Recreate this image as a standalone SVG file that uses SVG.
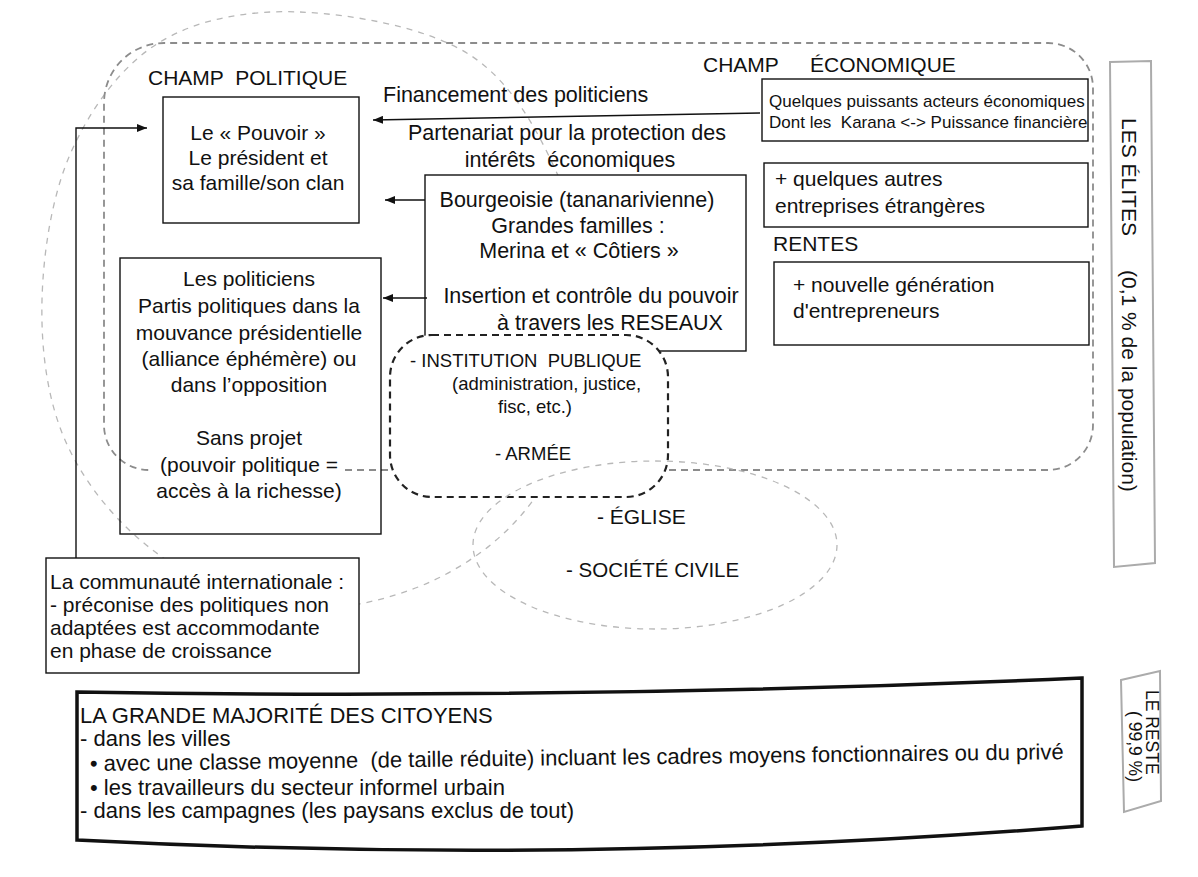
<svg xmlns="http://www.w3.org/2000/svg" width="1198" height="877" viewBox="0 0 1198 877">
<defs>
<style>
.t{font-family:"Liberation Sans",Arial,Helvetica,sans-serif;fill:#111;white-space:pre}
.s17{font-size:17px}.s175{font-size:17.5px}.s18{font-size:18.5px}.s20{font-size:20.5px}.s21{font-size:21px}.s215{font-size:21.5px}.s22{font-size:22px}
.m{text-anchor:middle}
.box{fill:#fff;stroke:#111;stroke-width:1.4}
.boxn{fill:none;stroke:#111;stroke-width:1.4}
.light{fill:none;stroke:#b8b8b8;stroke-width:1.3;stroke-dasharray:6 6}
.mid{fill:none;stroke:#8c8c8c;stroke-width:1.8;stroke-dasharray:7 5}
.inst{fill:#fff;stroke:#222;stroke-width:2.2;stroke-dasharray:7 5}
.gray{fill:#fff;stroke:#ababab;stroke-width:2}
.conn{fill:none;stroke:#111;stroke-width:1.4}
.thick{fill:#fff;stroke:#111;stroke-width:3.5}
</style>
<marker id="ah" markerUnits="userSpaceOnUse" markerWidth="11" markerHeight="8" refX="10" refY="4" orient="auto">
<path d="M0,0 L10,4 L0,8 z" fill="#111"/>
</marker>
</defs>
<rect width="1198" height="877" fill="#fff"/>

<g id="champ-politique-zone">
<path class="light" d="M300,12 C351.7,14.2 426.7,27 470,55 C513.3,83 539.7,134.2 560,180 C580.3,225.8 595.3,278.3 592,330 C588.7,381.7 567,448 540,490 C513,532 473.3,562.3 430,582 C386.7,601.7 326.7,613.7 280,608 C233.3,602.3 185.8,576 150,548 C114.2,520 83,481.3 65,440 C47,398.7 40.8,348.3 42,300 C43.2,251.7 52.3,193 72,150 C91.7,107 122,65 160,42 C198,19 248.3,9.8 300,12 Z"/>
<text class="t s21" x="148" y="85">CHAMP  POLITIQUE</text>
</g>

<g id="champ-economique-zone">
<path class="mid" d="M345,470 H1048 A45,45 0 0 0 1093,425 V88 A45,45 0 0 0 1048,43 H164 A60,60 0 0 0 104,103 V425 A45,45 0 0 0 149,470"/>
<text class="t s21" x="703" y="72">CHAMP<tspan x="810">ÉCONOMIQUE</tspan></text>
</g>

<g id="pouvoir">
<rect class="box" x="163" y="97" width="196" height="126"/>
<text class="t s21 m" x="258" y="140">Le « Pouvoir »</text>
<text class="t s21 m" x="258" y="165">Le président et</text>
<text class="t s21 m" x="258" y="190">sa famille/son clan</text>
</g>

<g id="bourgeoisie">
<rect class="box" x="425" y="175" width="321" height="176"/>
<text class="t s215 m" x="577" y="207">Bourgeoisie (tananarivienne)</text>
<text class="t s215 m" x="578" y="233">Grandes familles :</text>
<text class="t s215 m" x="579" y="258">Merina et « Côtiers »</text>
<text class="t s215 m" x="591" y="303">Insertion et contrôle du pouvoir</text>
<text class="t s215 m" x="610" y="330">à travers les RESEAUX</text>
</g>

<g id="politiciens">
<rect class="boxn" x="120" y="258" width="261" height="276"/>
<text class="t s21 m" x="249" y="286">Les politiciens</text>
<text class="t s21 m" x="249" y="313">Partis politiques dans la</text>
<text class="t s21 m" x="249" y="340">mouvance présidentielle</text>
<text class="t s21 m" x="249" y="366">(alliance éphémère) ou</text>
<text class="t s21 m" x="249" y="392">dans l’opposition</text>
<text class="t s21 m" x="249" y="445">Sans projet</text>
<text class="t s21 m" x="249" y="472">(pouvoir politique =</text>
<text class="t s21 m" x="249" y="498">accès à la richesse)</text>
</g>

<g id="institution">
<rect class="inst" x="390" y="335" width="278" height="162" rx="42" ry="42"/>
<text class="t s18" x="410" y="367">- INSTITUTION  PUBLIQUE</text>
<text class="t s18" x="452" y="390">(administration, justice,</text>
<text class="t s18" x="498" y="413">fisc, etc.)</text>
<text class="t s18" x="495" y="460">- ARMÉE</text>
</g>

<g id="eglise-societe">
<ellipse class="light" cx="655" cy="545" rx="182" ry="84"/>
<text class="t s21" x="597" y="524">- ÉGLISE</text>
<text class="t s20" x="566" y="577">- SOCIÉTÉ CIVILE</text>
</g>

<g id="communaute">
<rect class="box" x="46" y="558" width="313" height="115"/>
<text class="t s21" x="50" y="589">La communauté internationale :</text>
<text class="t s21" x="50" y="612">- préconise des politiques non</text>
<text class="t s21" x="50" y="635">adaptées est accommodante</text>
<text class="t s21" x="50" y="658">en phase de croissance</text>
</g>

<g id="acteurs-economiques">
<rect class="box" x="762" y="79" width="326" height="62"/>
<text class="t s17" x="769" y="107">Quelques puissants acteurs économiques</text>
<text class="t s17" x="769" y="128">Dont les  Karana &lt;-&gt; Puissance financière</text>
</g>

<g id="entreprises-etrangeres">
<rect class="box" x="764" y="163" width="324" height="64"/>
<text class="t s21" x="775" y="186">+ quelques autres</text>
<text class="t s21" x="775" y="213">entreprises étrangères</text>
</g>

<g id="rentes">
<text class="t s21" x="773" y="251">RENTES</text>
</g>

<g id="nouvelle-generation">
<rect class="box" x="774" y="262" width="315" height="83"/>
<text class="t s21" x="793" y="292">+ nouvelle génération</text>
<text class="t s21" x="793" y="318">d'entrepreneurs</text>
</g>

<g id="les-elites">
<polygon class="gray" points="1110,62 1151,61 1155,563 1114,567"/>
<text class="t s21" transform="translate(1122,118) rotate(90)">LES ÉLITES<tspan x="152">(0,1 % de la population)</tspan></text>
</g>

<g id="citoyens">
<path class="thick" d="M77,692 Q580,700 1082,678 L1082,826 Q580,866 77,840 Z"/>
<text class="t s22" x="80" y="723">LA GRANDE MAJORITÉ DES CITOYENS</text>
<text class="t s22" x="80" y="746">- dans les villes</text>
<text class="t s22" x="90" y="771" transform="rotate(-0.7 90 771)">• avec une classe moyenne  (de taille réduite) incluant les cadres moyens fonctionnaires ou du privé</text>
<text class="t s22" x="90" y="795">• les travailleurs du secteur informel urbain</text>
<text class="t s22" x="80" y="818">- dans les campagnes (les paysans exclus de tout)</text>
</g>

<g id="le-reste">
<polygon class="gray" points="1121,680 1160,671 1161,801 1124,812"/>
<text class="t s175" transform="translate(1146,690) rotate(90)">LE RESTE</text>
<text class="t s175" transform="translate(1129,711) rotate(90)">( 99,9 %)</text>
</g>

<g id="connectors">
<line class="conn" x1="760" y1="113" x2="373" y2="120" marker-end="url(#ah)"/>
<text class="t s215" x="383" y="102">Financement des politiciens</text>
<text class="t s215 m" x="567" y="140">Partenariat pour la protection des</text>
<text class="t s215 m" x="570" y="167">intérêts  économiques</text>
<line class="conn" x1="425" y1="200" x2="385" y2="200" marker-end="url(#ah)"/>
<line class="conn" x1="427" y1="298" x2="383" y2="298" marker-end="url(#ah)"/>
<polyline class="conn" points="76,558 76,128 147,128" marker-end="url(#ah)"/>
</g>
</svg>
